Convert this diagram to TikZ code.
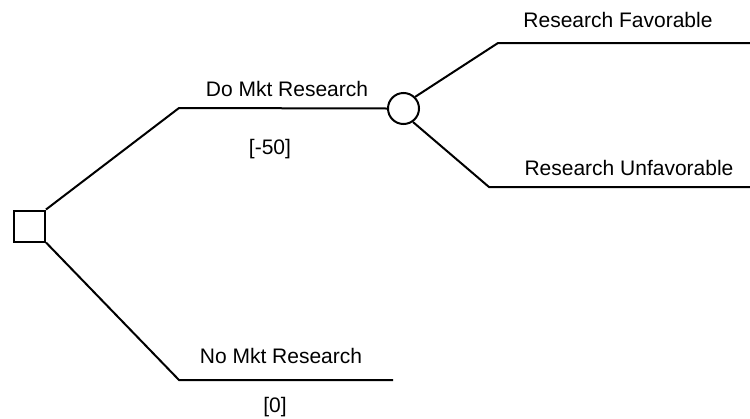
\documentclass[tikz,border=0pt]{standalone}
\usepackage{fontspec}
\setmainfont{Liberation Sans}
\begin{document}
\begin{tikzpicture}[x=1pt,y=-1pt,
  branch/.style={line width=2pt, line join=miter},
  decision/.style={draw, line width=2pt, rectangle, minimum size=31pt, inner sep=0pt},
  chance/.style={draw, line width=2pt, circle, minimum size=31pt, inner sep=0pt},
  lbl/.style={anchor=base, inner sep=0pt, font=\fontsize{21}{25}\selectfont}]
\useasboundingbox (0,0) rectangle (750,418);

% decision and chance nodes
\node[decision] (sq) at (29.5,226) {};
\node[chance] (ch) at (403.5,108.5) {};

% elbows and free ends of the branches
\coordinate (doK)  at (179,108);
\coordinate (noK)  at (179,380);
\coordinate (noE)  at (393,380);
\coordinate (favK) at (498,43);
\coordinate (favE) at (750,43);
\coordinate (unfK) at (489,187);
\coordinate (unfE) at (750,187);

% branches
\draw[branch] (sq.north east) -- (doK) -- (ch.west);
\draw[branch] (sq.south east) -- (noK) -- (noE);
\draw[branch] (ch.45) -- (favK) -- (favE);
\draw[branch] (ch.-55) -- (unfK) -- (unfE);

% labels
\node[lbl] (doL)   at (287,96)  {Do Mkt Research};
\node[lbl] (doV)   at (270,154) {[-50]};
\node[lbl] (noL)   at (281,363) {No Mkt Research};
\node[lbl] (noV)   at (275,412) {[0]};
\node[lbl] (favL)  at (618,27)  {Research Favorable};
\node[lbl] (unfL)  at (629,175) {Research Unfavorable};
\end{tikzpicture}
\end{document}
